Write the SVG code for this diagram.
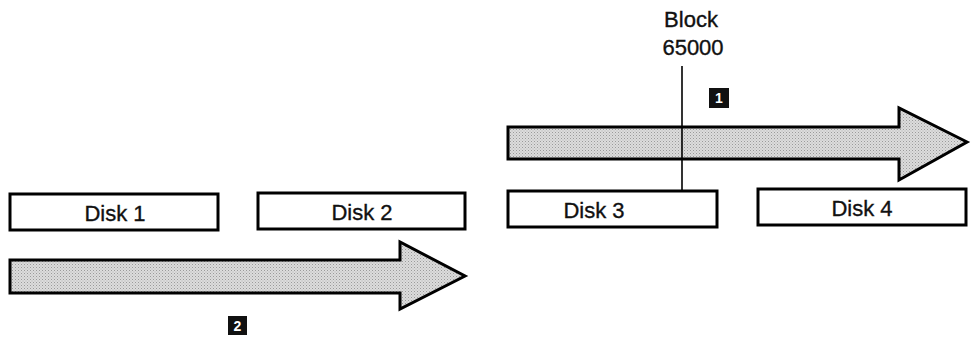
<svg xmlns="http://www.w3.org/2000/svg" width="972" height="340" viewBox="0 0 972 340">
  <style>
    .disk rect { fill: #ffffff; stroke: #000000; stroke-width: 3; }
    .lbl { font-family: "Liberation Sans", Arial, sans-serif; font-size: 22px; fill: #111111; stroke: #111111; stroke-width: 0.35; text-anchor: middle; }
    .arrow { fill: url(#stipple); stroke: #000000; stroke-width: 3; stroke-linejoin: miter; }
    .tag rect { fill: #111111; }
    .tag text { font-family: "Liberation Sans", Arial, sans-serif; font-size: 14px; font-weight: bold; fill: #ffffff; text-anchor: middle; }
  </style>
  <defs>
    <pattern id="stipple" width="3" height="3" patternUnits="userSpaceOnUse">
      <rect width="3" height="3" fill="#dcdcdc"/>
      <rect x="0" y="0" width="1" height="1" fill="#9a9a9a"/>
      <rect x="1.5" y="1.5" width="1" height="1" fill="#b0b0b0"/>
    </pattern>
  </defs>

  <rect width="972" height="340" fill="#ffffff"/>

  <!-- data flow arrows -->
  <g id="connectors">
    <polygon id="arrow-1" class="arrow" points="508,127 899,127 899,108 967,142 899,180 899,159 508,159"/>
    <polygon id="arrow-2" class="arrow" points="10,260 400,260 400,242 465,276 400,309 400,293 10,293"/>
    <line id="block-marker" x1="682" y1="66" x2="682" y2="227" stroke="#000000" stroke-width="1.6"/>
  </g>

  <g id="disk1" class="disk">
    <rect x="10" y="194" width="208" height="36"/>
    <text class="lbl" x="115" y="221">Disk 1</text>
  </g>
  <g id="disk2" class="disk">
    <rect x="258" y="193" width="207" height="36"/>
    <text class="lbl" x="362" y="220">Disk 2</text>
  </g>
  <g id="disk3" class="disk">
    <rect x="508" y="191" width="209" height="36"/>
    <text class="lbl" x="594" y="218">Disk 3</text>
  </g>
  <g id="disk4" class="disk">
    <rect x="758" y="189" width="208" height="36"/>
    <text class="lbl" x="862" y="216">Disk 4</text>
  </g>

  <g id="block-label">
    <text class="lbl" x="691" y="27">Block</text>
    <text class="lbl" x="693" y="55">65000</text>
  </g>

  <g id="tag1" class="tag">
    <rect x="709" y="88" width="20" height="20"/>
    <text x="719" y="103">1</text>
  </g>
  <g id="tag2" class="tag">
    <rect x="228" y="316" width="19" height="19"/>
    <text x="237.5" y="331">2</text>
  </g>
</svg>
